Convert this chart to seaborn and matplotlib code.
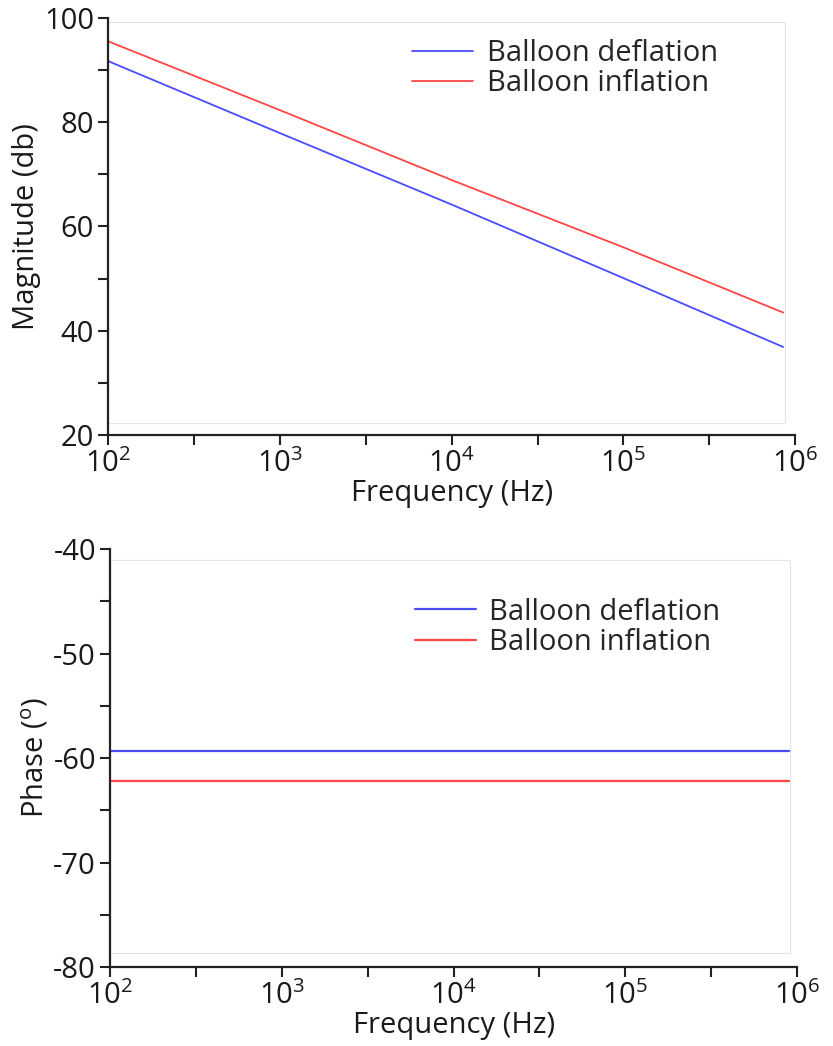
import matplotlib
matplotlib.use("Agg")
import matplotlib.pyplot as plt
from matplotlib.patches import Rectangle
import numpy as np
import pandas as pd
import seaborn as sns

# --- DANE ---
freq_mag = [1e2, 1e3, 1e4, 1e5, 8.5e5]
mag_deflation = [91.7, 77.9, 64.2, 50.1, 36.9]
mag_inflation = [95.5, 82.3, 68.9, 56.0, 43.5]

freq_phase = [1e2, 9e5]
phase_deflation = [-59.3, -59.3]
phase_inflation = [-62.2, -62.2]

series_names = ["Balloon deflation", "Balloon inflation"]
colors = {"Balloon deflation": "#4b4bff", "Balloon inflation": "#ff4646"}

mag_yticks = [20, 40, 60, 80, 100]
phase_yticks = [-80, -70, -60, -50, -40]
x_decades = [2, 3, 4, 5, 6]

sns.set_theme(style="ticks")
FONT = "Open Sans"
plt.rcParams["font.family"] = [FONT, "DejaVu Sans"]
plt.rcParams["mathtext.fontset"] = "custom"
plt.rcParams["mathtext.rm"] = FONT
plt.rcParams["mathtext.it"] = FONT
FS = 21

df_mag = pd.DataFrame({
    "f": freq_mag * 2,
    "v": mag_deflation + mag_inflation,
    "s": [series_names[0]] * len(freq_mag) + [series_names[1]] * len(freq_mag),
})
df_phase = pd.DataFrame({
    "f": freq_phase * 2,
    "v": phase_deflation + phase_inflation,
    "s": [series_names[0]] * len(freq_phase) + [series_names[1]] * len(freq_phase),
})

fig = plt.figure(figsize=(8.33, 10.46), dpi=100)
ax1 = fig.add_axes([0.1297, 0.584, 0.825, 0.399])
ax2 = fig.add_axes([0.132, 0.0755, 0.825, 0.3995])


def style_axis(ax, yticks, ylabel, ymin, ymax, frame, leg_anchor):
    ax.set_xscale("log")
    ax.set_xlim(1e2, 1e6)
    ax.set_ylim(ymin, ymax)
    major = [10.0 ** d for d in np.arange(2, 6.01, 0.5)]
    ax.set_xticks(major)
    ax.set_xticklabels([r"$\mathregular{10^{%d}}$" % int(np.log10(m)) if np.log10(m) % 1 == 0 else ""
                        for m in major])
    ax.xaxis.set_minor_locator(matplotlib.ticker.NullLocator())
    step = (yticks[1] - yticks[0]) / 2
    ax.set_yticks(np.arange(ymin, ymax + 0.01, step))
    ax.set_yticklabels([str(int(t)) if t in yticks else "" for t in np.arange(ymin, ymax + 0.01, step)])
    ax.tick_params(axis="both", direction="out", length=7, width=1.5, color="#222222",
                   labelsize=FS, pad=3, labelcolor="#1a1a1a")
    for side in ["top", "right"]:
        ax.spines[side].set_visible(False)
    for side in ["left", "bottom"]:
        ax.spines[side].set_linewidth(1.6)
        ax.spines[side].set_color("#222222")
    ax.set_xlabel("Frequency (Hz)", fontsize=FS, labelpad=0, color="#1a1a1a")
    ax.set_ylabel(ylabel, fontsize=FS, labelpad=2, color="#1a1a1a")
    ax.add_patch(Rectangle((0, frame[0]), frame[2], frame[1] - frame[0], transform=ax.transAxes,
                           fill=False, edgecolor="#e4e4e4", linewidth=0.8, zorder=0))
    ax.legend(loc="center left", bbox_to_anchor=leg_anchor, frameon=False, fontsize=FS,
              handlelength=2.1, handletextpad=0.45, labelspacing=0.05, borderpad=0, borderaxespad=0)


sns.lineplot(data=df_mag, x="f", y="v", hue="s", palette=colors, ax=ax1, linewidth=1.3)
style_axis(ax1, mag_yticks, "Magnitude (db)", 20, 100, (0.029, 0.990, 0.985), (0.4425, 0.878))

sns.lineplot(data=df_phase, x="f", y="v", hue="s", palette=colors, ax=ax2, linewidth=1.6)
style_axis(ax2, phase_yticks, r"Phase ($\mathregular{^{o}}$)", -80, -40, (0.0335, 0.974, 0.990), (0.444, 0.813))

fig.savefig("out.png", dpi=100)
